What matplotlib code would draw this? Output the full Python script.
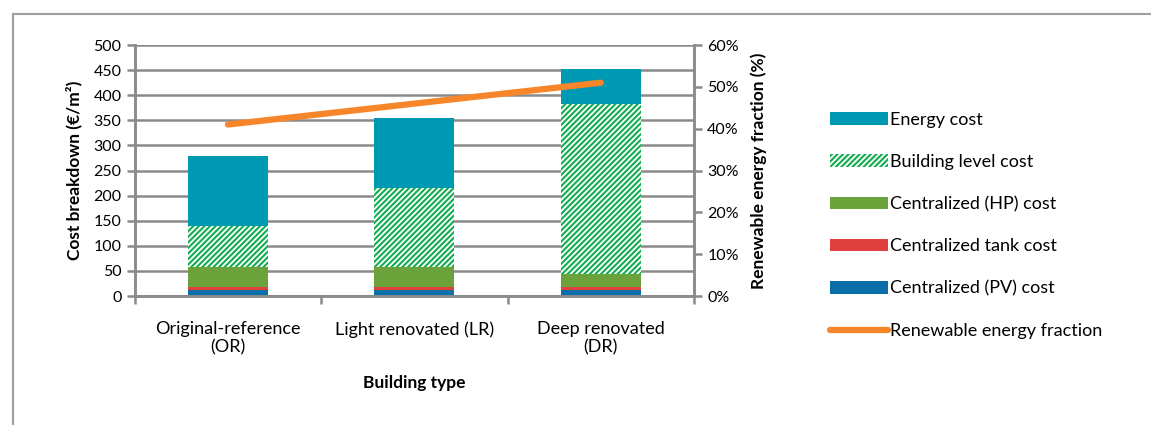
import numpy as np
import matplotlib.pyplot as plt
from matplotlib.patches import Rectangle
from matplotlib.ticker import PercentFormatter

plt.rcParams['font.family'] = ['Lato', 'DejaVu Sans']
plt.rcParams['hatch.linewidth'] = 1.3

# Data
categories = ['Original-reference\n(OR)', 'Light renovated (LR)', 'Deep renovated\n(DR)']
pv_cost = [12, 12, 12]
tank_cost = [5, 5, 5]
hp_cost = [41, 41, 27]
building_cost = [82, 157, 339]
energy_cost = [138, 140, 69]
renewable_fraction = [41, 46, 51]

fig = plt.figure(figsize=(11.51, 4.25), dpi=100)
ax = fig.add_axes([0.117, 0.3035, 0.486, 0.5905])
ax2 = ax.twinx()

x = np.arange(len(categories))
w = 0.43
grid_c = '#8a8a8a'

bottom = np.zeros(len(x))
series = [
    (pv_cost, 'Centralized (PV) cost', dict(color='#0a6fa8')),
    (tank_cost, 'Centralized tank cost', dict(color='#e04040')),
    (hp_cost, 'Centralized (HP) cost', dict(color='#6ba33a')),
    (building_cost, 'Building level cost',
     dict(facecolor='#14ad52', edgecolor='white', hatch='//////', linewidth=0)),
    (energy_cost, 'Energy cost', dict(color='#0099b3')),
]
handles = {}
for vals, lab, style in series:
    b = ax.bar(x, vals, w, bottom=bottom, label=lab, zorder=2, **style)
    handles[lab] = b
    bottom += np.array(vals)

line, = ax2.plot(x, renewable_fraction, color='#f7862a', lw=4.5,
                 solid_capstyle='round', label='Renewable energy fraction')

ax.set_xlim(-0.5, 2.5)
ax.set_ylim(0, 500)
ax.set_yticks(np.arange(0, 501, 50))
ax2.set_ylim(0, 60)
ax2.set_yticks(np.arange(0, 61, 10))
ax2.yaxis.set_major_formatter(PercentFormatter(decimals=0))

ax.set_axisbelow(True)
ax.yaxis.grid(True, color=grid_c, lw=1.8)
ax.set_xticks(x)
ax.set_xticklabels(categories, fontsize=13)
ax.set_xticks([-0.5, 0.5, 1.5, 2.5], minor=True)
ax.tick_params(axis='x', which='major', length=0, pad=18)
ax.tick_params(axis='x', which='minor', length=6, color=grid_c, width=1.8)
ax.tick_params(axis='y', length=6, color=grid_c, width=1.8, labelsize=11.5)
ax2.tick_params(axis='y', length=6, color=grid_c, width=1.8, labelsize=11.5)

for a in (ax, ax2):
    for s in a.spines.values():
        s.set_color(grid_c)
        s.set_linewidth(1.8)
    a.spines['top'].set_visible(False)

ax.set_ylabel('Cost breakdown (€/m²)', fontsize=12.5, fontweight='bold', labelpad=8)
ax2.set_ylabel('Renewable energy fraction (%)', fontsize=12.5, fontweight='bold', labelpad=8)
ax.set_xlabel('Building type', fontsize=12.5, fontweight='bold', labelpad=14)

order = ['Energy cost', 'Building level cost', 'Centralized (HP) cost',
         'Centralized tank cost', 'Centralized (PV) cost']
leg_h = [handles[k] for k in order] + [line]
leg_l = order + ['Renewable energy fraction']
fig.legend(leg_h, leg_l, loc='center left', bbox_to_anchor=(0.707, 0.47),
           frameon=False, fontsize=13, handlelength=3.2, handleheight=0.7,
           handletextpad=0.15, labelspacing=1.45)

# outer chart frame
fig.patches.append(Rectangle((0.011, -0.05), 1.2, 1.017, transform=fig.transFigure,
                             fill=False, edgecolor='#a0a0a0', lw=1.5))

fig.savefig('out.png', dpi=100)
